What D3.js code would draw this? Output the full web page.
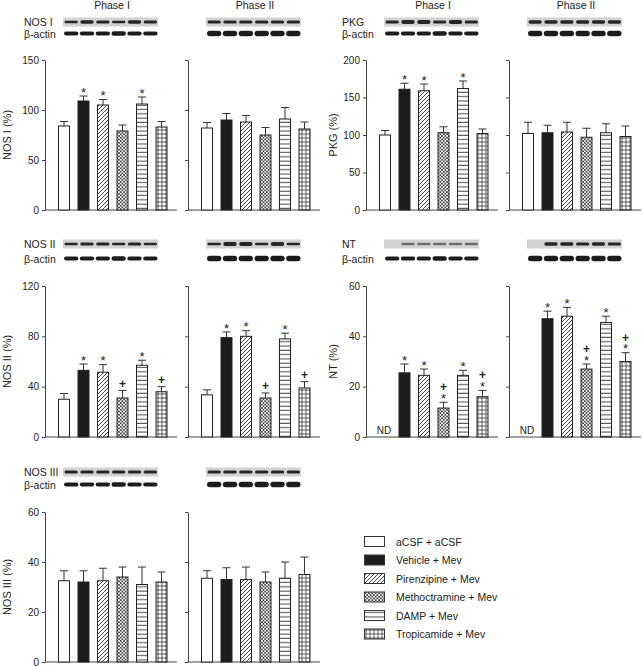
<!DOCTYPE html>
<html><head><meta charset="utf-8">
<script src="https://cdn.jsdelivr.net/npm/d3@7"></script>
<style>
body{margin:0;background:#fff}
svg{display:block}
text{font-family:"Liberation Sans",Arial,Helvetica,sans-serif;fill:#222}
</style>
</head><body>
<svg id="c" width="643" height="666"></svg>
<script>
// ---------------- DATA ----------------
const groups = ["aCSF + aCSF","Vehicle + Mev","Pirenzipine + Mev","Methoctramine + Mev","DAMP + Mev","Tropicamide + Mev"];
const phases = ["Phase I","Phase II"];
const markers = ["NOS I","PKG","NOS II","NT","NOS III"];
const yTitles = ["NOS I (%)","PKG (%)","NOS II (%)","NT (%)","NOS III (%)"];
const yTicks = [[0,50,100,150],[0,50,100,150,200],[0,40,80,120],[0,20,40,60],[0,20,40,60]];
// means[marker][phase][group]  (null = ND, not detected)
const means = [
  [[84,109,105,79,106,83],[82,90,88,75,91,81]],
  [[100,161,159,103,162,102],[102,103,104,97,103,98]],
  [[30,53,51.5,31,57,36],[33.5,79,80,31,78,39]],
  [[null,25.5,24.5,11.5,24.5,16],[null,47,48,27,45.5,30]],
  [[32.5,32,32.5,34,31,32],[33.5,33,33,32,33.5,35]]
];
const sems = [
  [[4.5,5,5.5,6,7,5.5],[5.5,6.5,6.5,7.5,11.5,7]],
  [[6,8,9,8,10,6],[15,10,13,12,12,14]],
  [[4.5,5,6,6,4,4],[4,4.5,4.5,4,4.5,5]],
  [[null,3.5,2.5,2.3,2,2.5],[null,3,3.5,2,2.5,3.5]],
  [[4,4.5,5,4,7,4],[3,4.7,5,4,6.5,7]]
];
// significance vs aCSF (*) and vs Vehicle (+)
const stars = [
  [[0,1,1,0,1,0],[0,0,0,0,0,0]],
  [[0,1,1,0,1,0],[0,0,0,0,0,0]],
  [[0,1,1,0,1,0],[0,1,1,0,1,0]],
  [[0,1,1,1,1,1],[0,1,1,1,1,1]],
  [[0,0,0,0,0,0],[0,0,0,0,0,0]]
];
const pluses = [
  [[0,0,0,0,0,0],[0,0,0,0,0,0]],
  [[0,0,0,0,0,0],[0,0,0,0,0,0]],
  [[0,0,0,1,0,1],[0,0,0,1,0,1]],
  [[0,0,0,1,0,1],[0,0,0,1,0,1]],
  [[0,0,0,0,0,0],[0,0,0,0,0,0]]
];
// western blot band thickness per lane (target protein)
const bands = [
  [[2.5,3.5,3,2.5,3.5,3],[3,3,3,3,3,3]],
  [[3,4,4,3,4,3],[3.5,3.5,3.5,3.5,3.5,3.5]],
  [[2.5,3,3,2.5,3,2.5],[2.5,4,4,2.5,4,2.5]],
  [[0,2.5,2.5,2.5,2.5,2.5],[0,3.5,3.5,3,3.5,3]],
  [[3,3,3,3,3,3],[3,3,3,3,3,3]]
];
const actinBands = [[4,4,4,4.5,4,4],[5.5,5.5,5.5,5.5,5.5,5.5]];

// ---------------- LAYOUT ----------------
const svg = d3.select("#c");
const defs = svg.append("defs");
function pat(id,w,h,draw){
  const p = defs.append("pattern").attr("id",id).attr("patternUnits","userSpaceOnUse").attr("width",w).attr("height",h);
  p.append("rect").attr("width",w).attr("height",h).attr("fill","#fff");
  draw(p);
}
pat("diag",4,4,p=>p.append("path").attr("d","M-1,1L1,-1M0,4L4,0M3,5L5,3").attr("stroke","#333").attr("stroke-width",0.9));
pat("xhatch",3.4,3.4,p=>p.append("path").attr("d","M0,0L3.4,3.4M0,3.4L3.4,0").attr("stroke","#333").attr("stroke-width",0.8));
pat("hlines",4,4.3,p=>p.append("path").attr("d","M0,2H4").attr("stroke","#444").attr("stroke-width",1));
pat("grid",4,4,p=>p.append("path").attr("d","M0,2H4M2,0V4").attr("stroke","#444").attr("stroke-width",0.9));
defs.append("filter").attr("id","blur").append("feGaussianBlur").attr("stdDeviation",0.5);
const fills = ["#fff","#1c1c1c","url(#diag)","url(#xhatch)","url(#hlines)","url(#grid)"];

const layout = [{col:0,row:0},{col:1,row:0},{col:0,row:1},{col:1,row:1},{col:0,row:2}];
const colX = [45,366], phaseDx = 143;
const rows = [
  {top:60,bot:210,blot:17.5,actin:33.5},
  {top:286,bot:437,blot:239.5,actin:258.5},
  {top:512,bot:662,blot:467.5,actin:484.5}
];
const titleX = [7,333], labelX = [24,342];
const axisColor = "#444";

markers.forEach((mk,m)=>{
  const {col,row} = layout[m];
  const R = rows[row];
  // y-axis title
  svg.append("text").attr("transform",`translate(${titleX[col]+4},${(R.top+R.bot)/2}) rotate(-90)`)
    .attr("text-anchor","middle").attr("font-size",11).text(yTitles[m]);
  // blot labels
  svg.append("text").attr("x",labelX[col]).attr("y",R.blot+8.5).attr("font-size",10.5).text(mk);
  svg.append("text").attr("x",labelX[col]).attr("y",R.actin+4).attr("font-size",10.5).text("β-actin");

  phases.forEach((ph,p)=>{
    const ax = colX[col] + p*phaseDx;
    const ymax = d3.max(yTicks[m]);
    const y = d3.scaleLinear().domain([0,ymax]).range([R.bot,R.top]);
    const x = d3.scaleBand().domain(groups).range([ax+9.25,ax+126.25]).paddingInner(0.385).paddingOuter(0.1925);
    const g = svg.append("g");

    if(row===0){
      svg.append("text").attr("x",ax+67).attr("y",9).attr("text-anchor","middle").attr("font-size",10.5).text(ph);
    }
    // blots
    const bx = ax+18, bw = 95, lane = bw/6;
    const bg = svg.append("g").attr("filter","url(#blur)");
    bg.append("rect").attr("x",bx).attr("y",R.blot).attr("width",bw).attr("height",9).attr("fill","#d2d2d2");
    bands[m][p].forEach((t,i)=>{
      if(!t) return;
      bg.append("rect").attr("x",bx+i*lane+1.5).attr("width",lane-2.5)
        .attr("y",R.blot+4.5-t/2).attr("height",t).attr("rx",t/2)
        .attr("fill",(m===3&&p===0)?"#6e6e6e":"#262626");
    });
    actinBands[p].forEach((t,i)=>{
      bg.append("rect").attr("x",bx+i*lane+1).attr("width",lane-1.5)
        .attr("y",R.actin-t/2).attr("height",t).attr("rx",t/2).attr("fill","#1e1e1e");
    });

    // axis
    const axis = d3.axisLeft(y).tickValues(yTicks[m]).tickSize(3).tickSizeOuter(0).tickPadding(3)
      .tickFormat(p===0 ? d3.format("d") : ()=>"");
    const ag = g.append("g").attr("transform",`translate(${ax},0)`).call(axis);
    ag.select(".domain").attr("stroke",axisColor);
    ag.selectAll(".tick line").attr("stroke",axisColor);
    ag.selectAll(".tick text").attr("font-size",10).attr("font-family","Liberation Sans, Arial, sans-serif").attr("fill","#222");
    g.append("line").attr("x1",ax).attr("x2",ax+132).attr("y1",R.bot).attr("y2",R.bot).attr("stroke",axisColor);

    const data = groups.map((gr,i)=>({gr,i,v:means[m][p][i],e:sems[m][p][i],s:stars[m][p][i],pl:pluses[m][p][i]}));
    const present = data.filter(d=>d.v!==null);
    // error bars (one-sided)
    g.selectAll(".err").data(present).join("path")
      .attr("d",d=>{const cx=x(d.gr)+x.bandwidth()/2, yt=y(d.v+d.e);
        return `M${cx},${y(d.v)}V${yt}M${cx-4},${yt}H${cx+4}`;})
      .attr("stroke","#333").attr("stroke-width",1).attr("fill","none");
    // bars
    g.selectAll(".bar").data(present).join("rect")
      .attr("x",d=>x(d.gr)+0.5).attr("width",x.bandwidth()-1)
      .attr("y",d=>y(d.v)).attr("height",d=>R.bot-y(d.v))
      .attr("fill",d=>fills[d.i]).attr("stroke","#222").attr("stroke-width",1);
    // ND labels
    data.filter(d=>d.v===null).forEach(d=>{
      g.append("text").attr("x",x(d.gr)+x.bandwidth()/2-1).attr("y",R.bot-3.5)
        .attr("text-anchor","middle").attr("font-size",10).text("ND");
    });
    // significance marks
    present.forEach(d=>{
      const cx = x(d.gr)+x.bandwidth()/2, yc = y(d.v+d.e);
      let off = 0;
      if(d.s){
        g.append("text").attr("x",cx).attr("y",yc+0.8).attr("text-anchor","middle")
          .attr("font-size",13).attr("fill","#555").text("*");
        off = 8.5;
      }
      if(d.pl){
        g.append("text").attr("x",cx).attr("y",yc-2.5-off).attr("text-anchor","middle")
          .attr("font-size",12).attr("font-weight","bold").attr("fill","#333").text("+");
      }
    });
  });
});

// legend
const lg = svg.append("g");
groups.forEach((gr,i)=>{
  const cy = 541.5 + i*18.5;
  lg.append("rect").attr("x",364.5).attr("y",cy-5).attr("width",20).attr("height",10)
    .attr("fill",fills[i]).attr("stroke","#333").attr("stroke-width",1);
  lg.append("text").attr("x",396).attr("y",cy+4).attr("font-size",10.5).text(gr);
});
</script>
</body></html>
